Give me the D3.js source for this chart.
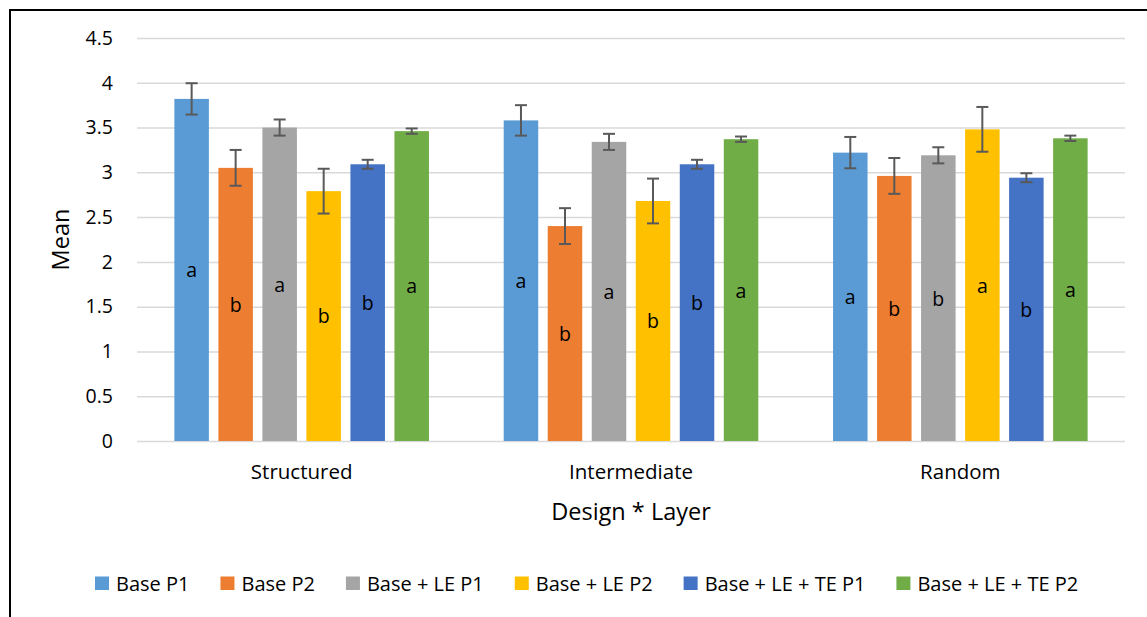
<!DOCTYPE html>
<html>
<head>
<meta charset="utf-8">
<script src="https://cdn.jsdelivr.net/npm/d3@7"></script>
<style>
  html, body { margin: 0; padding: 0; background: #fff; }
  svg { display: block; font-family: "Open Sans", "Noto Sans", sans-serif; }
</style>
</head>
<body>
<script>
// Mean score by design and layer, with standard error and grouping letters
const categories = ["Structured", "Intermediate", "Random"];
const seriesNames = ["Base P1", "Base P2", "Base + LE P1", "Base + LE P2", "Base + LE + TE P1", "Base + LE + TE P2"];
const seriesColors = ["#5B9BD5", "#ED7D31", "#A5A5A5", "#FFC000", "#4472C4", "#70AD47"];

// one array per series, ordered Structured, Intermediate, Random
const baseP1 = [3.82, 3.58, 3.22];
const baseP2 = [3.05, 2.40, 2.96];
const baseLeP1 = [3.50, 3.34, 3.19];
const baseLeP2 = [2.79, 2.68, 3.48];
const baseLeTeP1 = [3.09, 3.09, 2.94];
const baseLeTeP2 = [3.46, 3.37, 3.38];

const errBaseP1 = [0.175, 0.17, 0.175];
const errBaseP2 = [0.20, 0.20, 0.20];
const errBaseLeP1 = [0.09, 0.09, 0.09];
const errBaseLeP2 = [0.25, 0.25, 0.25];
const errBaseLeTeP1 = [0.05, 0.05, 0.05];
const errBaseLeTeP2 = [0.03, 0.03, 0.03];

const lettersBaseP1 = ["a", "a", "a"];
const lettersBaseP2 = ["b", "b", "b"];
const lettersBaseLeP1 = ["a", "a", "b"];
const lettersBaseLeP2 = ["b", "b", "a"];
const lettersBaseLeTeP1 = ["b", "b", "b"];
const lettersBaseLeTeP2 = ["a", "a", "a"];

const yTicks = [0, 0.5, 1, 1.5, 2, 2.5, 3, 3.5, 4, 4.5];
const yTickLabels = ["0", "0.5", "1", "1.5", "2", "2.5", "3", "3.5", "4", "4.5"];
const xTitle = "Design * Layer";
const yTitle = "Mean";

const values = [baseP1, baseP2, baseLeP1, baseLeP2, baseLeTeP1, baseLeTeP2];
const errors = [errBaseP1, errBaseP2, errBaseLeP1, errBaseLeP2, errBaseLeTeP1, errBaseLeTeP2];
const letters = [lettersBaseP1, lettersBaseP2, lettersBaseLeP1, lettersBaseLeP2, lettersBaseLeTeP1, lettersBaseLeTeP2];

const rows = [];
seriesNames.forEach((s, si) => {
  categories.forEach((c, ci) => {
    rows.push({ series: s, si, category: c, value: values[si][ci], err: errors[si][ci], letter: letters[si][ci] });
  });
});

const W = 1147, H = 617;
const plot = { left: 137, right: 1125, top: 38, bottom: 441 };

const svg = d3.select("body").append("svg").attr("width", W).attr("height", H);

// chart frame
svg.append("path")
  .attr("d", `M10,${H + 2} L10,10 L${W + 2},10`)
  .attr("fill", "none").attr("stroke", "#000").attr("stroke-width", 2);

const y = d3.scaleLinear().domain([0, 4.5]).range([plot.bottom, plot.top]);
const gap = 0.227;
const x0 = d3.scaleBand().domain(categories).range([plot.left, plot.right])
  .paddingInner(gap).paddingOuter(gap / 2);
const x1 = d3.scaleBand().domain(seriesNames).range([0, x0.bandwidth()]).paddingInner(0.216);
const color = d3.scaleOrdinal().domain(seriesNames).range(seriesColors);

// gridlines and y axis labels
const yAxis = d3.axisLeft(y).tickValues(yTicks)
  .tickFormat((d, i) => yTickLabels[i])
  .tickSize(-(plot.right - plot.left)).tickPadding(24);
const gy = svg.append("g").attr("transform", `translate(${plot.left},0)`).call(yAxis);
gy.select(".domain").remove();
gy.selectAll(".tick line").attr("stroke", "#D9D9D9").attr("stroke-width", 1.5);
gy.selectAll(".tick text").attr("fill", "#000").attr("font-size", 19.5)
  .attr("font-family", "'Open Sans', sans-serif");

// category axis labels
const xAxis = d3.axisBottom(x0).tickSize(0).tickPadding(23);
const gx = svg.append("g").attr("transform", `translate(0,${plot.bottom})`).call(xAxis);
gx.select(".domain").remove();
gx.selectAll(".tick text").attr("fill", "#000").attr("font-size", 20.5)
  .attr("font-family", "'Open Sans', sans-serif");

// bars
const groups = svg.append("g").selectAll("g").data(categories).join("g")
  .attr("transform", d => `translate(${x0(d)},0)`);

groups.selectAll("rect")
  .data(c => rows.filter(r => r.category === c))
  .join("rect")
  .attr("x", d => x1(d.series))
  .attr("width", x1.bandwidth())
  .attr("y", d => y(d.value))
  .attr("height", d => y(0) - y(d.value))
  .attr("fill", d => color(d.series));

// error bars
const eb = groups.selectAll("g.err")
  .data(c => rows.filter(r => r.category === c))
  .join("g").attr("class", "err")
  .attr("stroke", "#595959").attr("stroke-width", 2);
const capHalf = 6;
const cx = d => x1(d.series) + x1.bandwidth() / 2;
eb.append("line")
  .attr("x1", cx).attr("x2", cx)
  .attr("y1", d => y(d.value + d.err)).attr("y2", d => y(d.value - d.err));
eb.append("line")
  .attr("x1", d => cx(d) - capHalf).attr("x2", d => cx(d) + capHalf)
  .attr("y1", d => y(d.value + d.err)).attr("y2", d => y(d.value + d.err));
eb.append("line")
  .attr("x1", d => cx(d) - capHalf).attr("x2", d => cx(d) + capHalf)
  .attr("y1", d => y(d.value - d.err)).attr("y2", d => y(d.value - d.err));

// grouping letters centred in each bar
groups.selectAll("text.letter")
  .data(c => rows.filter(r => r.category === c))
  .join("text").attr("class", "letter")
  .attr("x", cx)
  .attr("y", d => y(d.value / 2))
  .attr("dy", "0.38em")
  .attr("text-anchor", "middle")
  .attr("font-size", 19.5).attr("fill", "#000")
  .text(d => d.letter);

// axis titles
svg.append("text")
  .attr("x", (plot.left + plot.right) / 2).attr("y", 512)
  .attr("dy", "0.35em").attr("text-anchor", "middle")
  .attr("font-size", 23.5).attr("fill", "#000").text(xTitle);
svg.append("text")
  .attr("transform", `translate(61,${(plot.top + plot.bottom) / 2}) rotate(-90)`)
  .attr("dy", "0.35em").attr("text-anchor", "middle")
  .attr("font-size", 23.5).attr("fill", "#000").text(yTitle);

// legend: swatch, label, then a fixed gap before the next entry
const legendY = 583.5, swatch = 14, labelOffset = 21, entryGap = 31;
const legend = svg.append("g");
let lx = 95;
seriesNames.forEach(name => {
  const item = legend.append("g").attr("transform", `translate(${lx},${legendY})`);
  item.append("rect").attr("x", 0).attr("y", -swatch / 2).attr("width", swatch).attr("height", swatch - 0.5)
    .attr("fill", color(name));
  const t = item.append("text").attr("x", labelOffset).attr("dy", "0.36em")
    .attr("font-size", 20).attr("fill", "#000").text(name);
  lx += labelOffset + t.node().getComputedTextLength() + entryGap;
});
</script>
</body>
</html>
